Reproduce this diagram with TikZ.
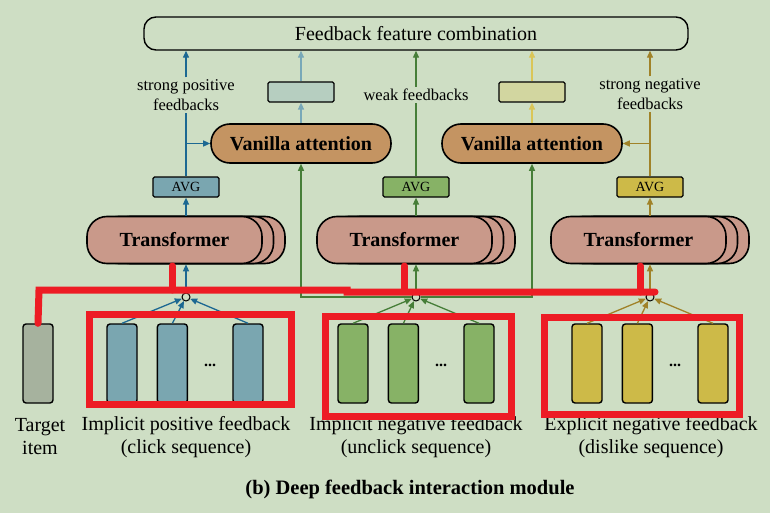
\documentclass[tikz,border=0pt]{standalone}
\usepackage{fontspec}
\setmainfont{Liberation Serif}
\usepackage{tikz}
\usetikzlibrary{arrows.meta}
\usetikzlibrary{positioning}
\definecolor{BgGreen}{RGB}{206,222,196}
\definecolor{PosBlue}{RGB}{28,104,146}
\definecolor{AttBlue}{RGB}{120,168,184}
\definecolor{NegGreen}{RGB}{70,126,56}
\definecolor{DisOlive}{RGB}{160,130,40}
\definecolor{AttYellow}{RGB}{218,198,88}
\definecolor{SeqBlue}{RGB}{122,166,176}
\definecolor{SeqGreen}{RGB}{135,178,102}
\definecolor{SeqYellow}{RGB}{205,186,72}
\definecolor{SeqGray}{RGB}{166,178,158}
\definecolor{AttBrown}{RGB}{196,148,98}
\definecolor{TrPink}{RGB}{201,153,138}
\definecolor{VecBlue}{RGB}{182,206,192}
\definecolor{VecYellow}{RGB}{210,214,160}
\definecolor{MarkRed}{RGB}{237,28,36}

\begin{document}
\begin{tikzpicture}[x=1pt, y=-1pt,
 outblock/.style = {draw, line width=1.4pt, rounded corners=12pt, minimum width=544pt, minimum height=33pt,
                    font=\fontsize{20}{24}\selectfont},
 attblock/.style = {draw, line width=1.6pt, fill=AttBrown, rounded corners=19pt, minimum width=180pt,
                    minimum height=39pt, font=\bfseries\fontsize{20}{23}\selectfont},
 trblock/.style = {draw, line width=1.6pt, fill=TrPink, rounded corners=20pt, minimum width=175pt,
                   minimum height=47pt, font=\bfseries\fontsize{20}{23}\selectfont},
 avgblock/.style = {draw, line width=1.2pt, rounded corners=1.5pt, minimum width=66pt, minimum height=20pt,
                    inner sep=0pt, font=\fontsize{14}{14}\selectfont},
 vecblock/.style = {draw, line width=1.2pt, rounded corners=1.5pt, minimum width=66pt, minimum height=20pt},
 seqblock/.style = {draw, line width=1.4pt, rounded corners=3pt, minimum width=30pt, minimum height=79pt},
 junc/.style = {draw, circle, line width=1pt, minimum size=8pt, inner sep=0pt},
 dotstext/.style = {inner sep=0pt, font=\bfseries\fontsize{16}{16}\selectfont},
 fbtext/.style = {fill=BgGreen, align=center, inner sep=2pt, font=\fontsize{16.5}{20}\selectfont},
 lbl/.style = {align=center, inner sep=0pt, font=\fontsize{20}{23}\selectfont},
 arr/.style = {line width=1.3pt, -{Triangle[length=7pt,width=6pt]}},
 line/.style = {line width=1.3pt},
 redmark/.style = {draw=MarkRed, line width=7pt, line cap=round},
                        ]
    \fill [BgGreen] (0,0) rectangle (770,513);
    \useasboundingbox (0,0) rectangle (770,513);

    \node [outblock] (comb) at (416,33.5) {Feedback feature combination};

    \node [attblock] (attl) at (301,143.5) {Vanilla attention};
    \node [attblock] (attr) at (532,143.5) {Vanilla attention};
    \node [vecblock, fill=VecBlue] (vecl) at (301,92) {};
    \node [vecblock, fill=VecYellow] (vecr) at (532,92) {};

    \node [avgblock, fill=SeqBlue] (avgp) at (186,187) {AVG};
    \node [avgblock, fill=SeqGreen] (avgn) at (416,187) {AVG};
    \node [avgblock, fill=SeqYellow] (avgd) at (650,187) {AVG};

    \node [fbtext] (sptxt) at (186,95) {strong positive\\feedbacks};
    \node [fbtext] (wtxt) at (416,95) {weak feedbacks};
    \node [fbtext] (sntxt) at (650,94) {strong negative\\feedbacks};

    % stacked transformers
    \node [trblock] (trp3) at (197.5,240) {};
    \node [trblock] (trp2) at (186,240) {};
    \node [trblock] (trp) at (174.5,240) {Transformer};
    \node [trblock] (trn3) at (427.5,240) {};
    \node [trblock] (trn2) at (416,240) {};
    \node [trblock] (trn) at (404.5,240) {Transformer};
    \node [trblock] (trd3) at (661.5,240) {};
    \node [trblock] (trd2) at (650,240) {};
    \node [trblock] (trd) at (638.5,240) {Transformer};

    \node [junc] (jp) at (186,297) {};
    \node [junc] (jn) at (416,297) {};
    \node [junc] (jd) at (650,297) {};

    \node [seqblock, fill=SeqGray] (tgt) at (38,363.5) {};
    \node [seqblock, fill=SeqBlue] (p1) at (122,363.5) {};
    \node [seqblock, fill=SeqBlue, right=19pt of p1] (p2) {};
    \node [dotstext] (pdots) at (210,365) {...};
    \node [seqblock, fill=SeqBlue] (p3) at (248,363.5) {};
    \node [seqblock, fill=SeqGreen] (n1) at (353,363.5) {};
    \node [seqblock, fill=SeqGreen, right=19pt of n1] (n2) {};
    \node [dotstext] (ndots) at (441,365) {...};
    \node [seqblock, fill=SeqGreen] (n3) at (479,363.5) {};
    \node [seqblock, fill=SeqYellow] (d1) at (587,363.5) {};
    \node [seqblock, fill=SeqYellow, right=19pt of d1] (d2) {};
    \node [dotstext] (ddots) at (675,365) {...};
    \node [seqblock, fill=SeqYellow] (d3) at (713,363.5) {};

    \node [lbl] (tgtlbl) at (40,437) {Target\\item};
    \node [lbl] (plbl) at (186,437) {Implicit positive feedback\\(click sequence)};
    \node [lbl] (nlbl) at (416,437) {Implicit negative feedback\\(unclick sequence)};
    \node [lbl] (dlbl) at (651,437) {Explicit negative feedback\\(dislike sequence)};
    \node [font=\bfseries\fontsize{20.5}{24}\selectfont] (caption) at (410,489) {(b) Deep feedback interaction module};

    % positive branch
    \draw [arr, PosBlue] (p1.north) -- (jp);
    \draw [arr, PosBlue] (p2.north) -- (jp);
    \draw [arr, PosBlue] (p3.north) -- (jp);
    \draw [arr, PosBlue] (jp) -- (jp |- trp.south);
    \draw [arr, PosBlue] (trp.north -| avgp) -- (avgp);
    \draw [line, PosBlue] (avgp.north) -- (sptxt.south);
    \draw [arr, PosBlue] (sptxt.north) -- (sptxt.north |- comb.south);
    \draw [arr, PosBlue] (attl.west -| avgp) -- (attl.west);
    \draw [arr, AttBlue] (attl) -- (vecl);
    \draw [arr, AttBlue] (vecl) -- (vecl |- comb.south);

    % unclick branch
    \draw [arr, NegGreen] (n1.north) -- (jn);
    \draw [arr, NegGreen] (n2.north) -- (jn);
    \draw [arr, NegGreen] (n3.north) -- (jn);
    \draw [arr, NegGreen] (jn) -- (jn |- trn.south);
    \draw [arr, NegGreen] (trn.north -| avgn) -- (avgn);
    \draw [line, NegGreen] (avgn.north) -- (wtxt.south);
    \draw [arr, NegGreen] (wtxt.north) -- (wtxt.north |- comb.south);
    \draw [arr, NegGreen] (jn.west) -| (attl.south);
    \draw [arr, NegGreen] (jn.east) -| (attr.south);

    % dislike branch
    \draw [arr, DisOlive] (d1.north) -- (jd);
    \draw [arr, DisOlive] (d2.north) -- (jd);
    \draw [arr, DisOlive] (d3.north) -- (jd);
    \draw [arr, DisOlive] (jd) -- (jd |- trd.south);
    \draw [arr, DisOlive] (trd.north -| avgd) -- (avgd);
    \draw [line, DisOlive] (avgd.north) -- (sntxt.south);
    \draw [arr, DisOlive] (sntxt.north) -- (sntxt.north |- comb.south);
    \draw [arr, DisOlive] (attr.east -| avgd) -- (attr.east);
    \draw [arr, AttYellow] (attr) -- (vecr);
    \draw [arr, AttYellow] (vecr) -- (vecr |- comb.south);

    % red marks
    \draw [redmark, line cap=butt] (89,314) rectangle (291,404);
    \draw [redmark, line cap=butt] (325,316) rectangle (511.5,416);
    \draw [redmark, line cap=butt] (544,317.5) rectangle (739.5,414);
    \draw [redmark] (tgt.north) -- (39,290) -- (347,290) -- (347,292) -- (655,292);
    \draw [redmark] (172,266) -- (172,290);
    \draw [redmark] (404,266) -- (404,291);
    \draw [redmark] (640,266) -- (640,292);
\end{tikzpicture}
\end{document}
